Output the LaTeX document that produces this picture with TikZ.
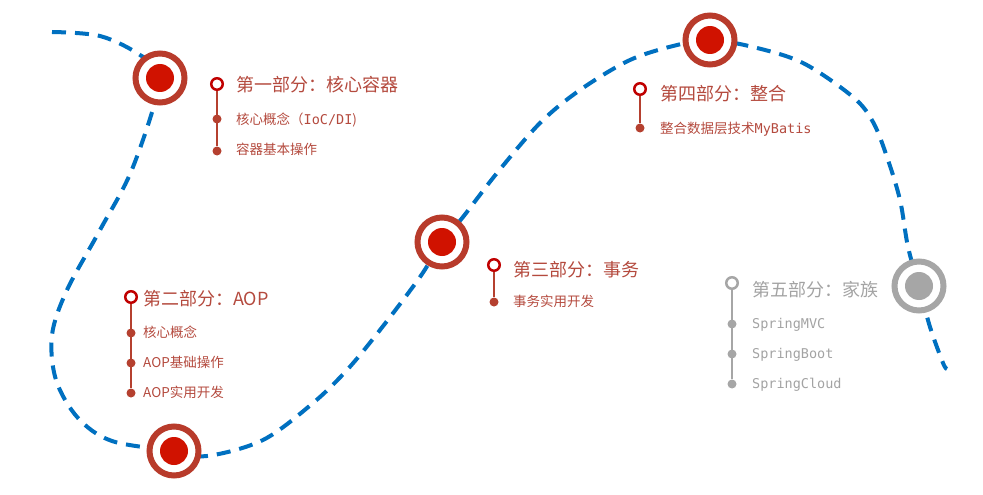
\documentclass[tikz,border=0pt]{standalone}
\usepackage{fontspec}
\setmainfont{Noto Sans CJK SC}
\newfontfamily\codefont{DejaVu Sans Mono}
\newcommand\code[1]{{\codefont #1}}
\usetikzlibrary{backgrounds}

\definecolor{ringred}{HTML}{B83B2B}
\definecolor{dotred}{HTML}{D01200}
\definecolor{markred}{HTML}{C00000}
\definecolor{stemred}{HTML}{B5402F}
\definecolor{labelred}{HTML}{B44A3E}
\definecolor{stopgray}{HTML}{A6A6A6}
\definecolor{labelgray}{HTML}{A3A3A3}
\definecolor{roadblue}{HTML}{0070C0}

\tikzset{
	stop/.style 2 args={circle, draw=#1, line width=6pt, fill=white,
		minimum size=49pt, inner sep=0pt,
		path picture={\fill[#2] (path picture bounding box.center) circle (14pt);}},
	road/.style={draw=roadblue, line width=4pt, dash pattern=on 14pt off 9pt},
	headmark/.style={circle, draw=#1, line width=2.5pt, fill=white,
		minimum size=11.5pt, inner sep=0pt},
	submark/.style={circle, fill=#1, minimum size=9pt, inner sep=0pt},
	stem/.style={draw=#1, line width=2.4pt},
	headtext/.style={anchor=west, inner sep=0pt, text=#1,
		font=\fontsize{18}{20}\selectfont, text height=14.4pt, text depth=1.8pt},
	subtext/.style={anchor=west, inner sep=0pt, text=#1,
		font=\fontsize{13.5}{15}\selectfont, text height=10.8pt, text depth=1.35pt}
}

\begin{document}
\begin{tikzpicture}[x=1pt, y=-1pt]
			\useasboundingbox (0,0) rectangle (983,495);
			
			\node[stop={ringred}{dotred}] (s1) at (160,78) {};
			\node[stop={ringred}{dotred}] (s2) at (174,451) {};
			\node[stop={ringred}{dotred}] (s3) at (442,242) {};
			\node[stop={ringred}{dotred}] (s4) at (710,40) {};
			\node[stop={stopgray}{stopgray}] (s5) at (919,286) {};
			
			\begin{scope}[on background layer]
			\draw[road] plot[smooth, tension=0.55] coordinates {
				(52,32) (100,36) (140,55) (s1.center)
				(133,167) (100,230) (67,290) (52,335) (56,380) (78,418) (112,441)
				(s2.center) (207,456) (263,440) (313,403) (347,370) (380,330) (420,277)
				(s3.center) (463,217) (497,173) (540,123) (580,90) (630,60) (677,45)
				(s4.center) (753,47) (803,63) (853,97) (873,122) (887,157) (900,200) (908,247)
				(s5.center) (930,327) (943,363) (947,369)};
			\end{scope}
			
			% part 1
			\node[headmark=markred] (h1) at (217,84) {};
			\node[submark=stemred] (d11) at (217,119) {};
			\node[submark=stemred] (d12) at (217,151) {};
			\draw[stem=stemred] (h1) -- (d12);
			\node[headtext=labelred] (t1) at (236,85) {第一部分：核心容器};
			\node[subtext=labelred] (u11) at (236,120) {核心概念（\code{IoC/DI})};
			\node[subtext=labelred] (u12) at (236,150) {容器基本操作};
			
			% part 2
			\node[headmark=markred] (h2) at (131,297) {};
			\node[submark=stemred] (d21) at (131,333) {};
			\node[submark=stemred] (d22) at (131,363) {};
			\node[submark=stemred] (d23) at (131,393) {};
			\draw[stem=stemred] (h2) -- (d23);
			\node[headtext=labelred] (t2) at (143,299) {第二部分：AOP};
			\node[subtext=labelred] (u21) at (143,333) {核心概念};
			\node[subtext=labelred] (u22) at (143,363) {AOP基础操作};
			\node[subtext=labelred] (u23) at (143,393) {AOP实用开发};
			
			% part 3
			\node[headmark=markred] (h3) at (494,265) {};
			\node[submark=stemred] (d31) at (494,302) {};
			\draw[stem=stemred] (h3) -- (d31);
			\node[headtext=labelred] (t3) at (513,270) {第三部分：事务};
			\node[subtext=labelred] (u31) at (513,302) {事务实用开发};
			
			% part 4
			\node[headmark=markred] (h4) at (640,89) {};
			\node[submark=stemred] (d41) at (640,128) {};
			\draw[stem=stemred] (h4) -- (d41);
			\node[headtext=labelred] (t4) at (660,94) {第四部分：整合};
			\node[subtext=labelred] (u41) at (660,129) {整合数据层技术\code{MyBatis}};
			
			% part 5
			\node[headmark=stopgray] (h5) at (732,283) {};
			\node[submark=stopgray] (d51) at (732,324) {};
			\node[submark=stopgray] (d52) at (732,354) {};
			\node[submark=stopgray] (d53) at (732,384) {};
			\draw[stem=stopgray] (h5) -- (d53);
			\node[headtext=labelgray] (t5) at (752,290) {第五部分：家族};
			\node[subtext=labelgray] (u51) at (752,324) {\code{SpringMVC}};
			\node[subtext=labelgray] (u52) at (752,354) {\code{SpringBoot}};
			\node[subtext=labelgray] (u53) at (752,384) {\code{SpringCloud}};
\end{tikzpicture}
\end{document}
